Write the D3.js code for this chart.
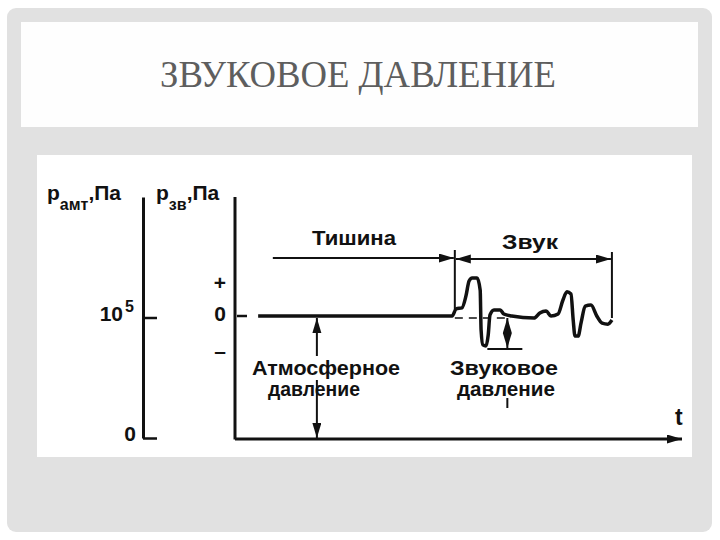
<!DOCTYPE html>
<html>
<head>
<meta charset="utf-8">
<script src="https://cdn.jsdelivr.net/npm/d3@7"></script>
<style>
  html, body { margin: 0; padding: 0; background: #fff; }
  svg { display: block; }
  .lbl { font-family: "Liberation Sans", Arial, sans-serif; font-weight: bold; fill: #111; }
</style>
</head>
<body>
<script>
// time axis (arbitrary units) and the two pressure axes
const tDomain = [0, 100];
const amtDomain = [0, 200000];      // p_amt, Pa
const amtTicks = [0, 100000];
const amtTickLabels = ['0', '10'];
const zvDomain = [-1, 3.5];         // p_zv, relative
const zvMarks = [1, 0, -1];
const zvMarkLabels = ['+', '0', '\u2013'];

// pressure trace: flat atmospheric level, then the sound burst
const traceT = [5.2, 48.8, 49.7, 51.0, 51.9, 52.6, 53.3, 54.4, 55.1, 55.3, 55.7, 56.4, 56.9, 57.3, 58.2, 59.6,
  60.4, 62.2, 67.2, 68.5, 69.9, 71.0, 72.6, 73.7, 74.6, 75.5, 76.0, 76.4, 77.1, 77.8, 78.7, 80.0, 81.3, 82.5,
  83.8, 84.7];
const traceP = [0, 0, 0.21, 0.24, 0.59, 1.03, 1.12, 1.12, 0.76, -0.41, -0.85, -0.88, -0.56, 0.03, 0.18, 0.18,
  0.06, 0, -0.06, 0.09, 0.15, 0, 0.06, 0.47, 0.71, 0.65, -0.12, -0.59, -0.59, -0.18, 0.29, 0.32, 0, -0.21,
  -0.24, -0.12];

// interval marks
const silenceSpan = [8.5, 49.4];
const soundSpan = [49.4, 84.7];
const atmArrowT = 18.4;
const zvArrowT = 61.2;

const W = 720, H = 540;
const svg = d3.select('body').append('svg').attr('width', W).attr('height', H);

// slide frame
svg.append('rect').attr('x', 7).attr('y', 8).attr('width', 705).attr('height', 524)
  .attr('rx', 9).attr('fill', '#e1e1e1');
svg.append('rect').attr('x', 21).attr('y', 22).attr('width', 677).attr('height', 105).attr('fill', '#fefefe');
svg.append('text').attr('x', 358).attr('y', 87).attr('text-anchor', 'middle')
  .attr('font-family', '"Liberation Serif", "DejaVu Serif", serif').attr('font-size', 37)
  .attr('fill', '#5e5e5e').attr('textLength', 396).attr('lengthAdjust', 'spacingAndGlyphs')
  .text('ЗВУКОВОЕ ДАВЛЕНИЕ');
svg.append('rect').attr('x', 37).attr('y', 155).attr('width', 655).attr('height', 302).attr('fill', '#fff');

// scales
const x = d3.scaleLinear().domain(tDomain).range([235, 680]);
const yA = d3.scaleLinear().domain(amtDomain).range([438, 197]);
const yS = d3.scaleLinear().domain([-1, 1]).range([350, 282]);

const defs = svg.append('defs');
defs.append('marker').attr('id', 'ah').attr('markerUnits', 'userSpaceOnUse')
  .attr('markerWidth', 16).attr('markerHeight', 10).attr('refX', 15).attr('refY', 4.5)
  .attr('orient', 'auto-start-reverse')
  .append('path').attr('d', 'M0,0 L15,4.5 L0,9 Z').attr('fill', '#111');

const g = svg.append('g');
const ink = '#111';

// left axis: p_amt
const axL = g.append('g').attr('transform', `translate(143,0)`)
  .call(d3.axisRight(yA).tickValues(amtTicks).tickSize(14).tickSizeOuter(0).tickFormat(''));
axL.select('.domain').attr('stroke', ink).attr('stroke-width', 3);
axL.selectAll('.tick line').attr('stroke', ink).attr('stroke-width', 2.5);

amtTicks.forEach((v, i) => {
  g.append('text').attr('class', 'lbl').attr('x', 136).attr('y', yA(v) + 3)
    .attr('text-anchor', 'end').attr('font-size', 21)
    .attr('dx', i === 1 ? -13 : 0).text(amtTickLabels[i]);
});
g.append('text').attr('class', 'lbl').attr('x', 125).attr('y', yA(100000) - 6)
  .attr('font-size', 16).text('5');

// right axis: p_zv and time axis
const x0 = x(0);
g.append('line').attr('x1', x0).attr('x2', x0).attr('y1', yS(zvDomain[1])).attr('y2', yA(0) + 1.5)
  .attr('stroke', ink).attr('stroke-width', 3);
g.append('line').attr('x1', x0).attr('x2', x(tDomain[1]) + 2).attr('y1', yA(0) + 1).attr('y2', yA(0) + 1)
  .attr('stroke', ink).attr('stroke-width', 3).attr('marker-end', 'url(#ah)');
g.append('line').attr('x1', x0 + 2).attr('x2', x0 + 12).attr('y1', yS(0)).attr('y2', yS(0))
  .attr('stroke', ink).attr('stroke-width', 2.5);

zvMarks.forEach((v, i) => {
  g.append('text').attr('class', 'lbl').attr('x', 220).attr('y', yS(v) + (v === 0 ? 5 : 8))
    .attr('text-anchor', 'middle').attr('font-size', 21).text(zvMarkLabels[i]);
});

// axis titles
function axisTitle(x1, main, sub, unit) {
  const t = g.append('text').attr('class', 'lbl').attr('x', x1).attr('y', 200).attr('font-size', 21);
  t.append('tspan').text(main);
  t.append('tspan').attr('dy', 10).attr('font-size', 16).text(sub);
  t.append('tspan').attr('dy', -10).text(',' + unit);
}
axisTitle(47, 'р', 'амт', 'Па');
axisTitle(156, 'р', 'зв', 'Па');

g.append('text').attr('class', 'lbl').attr('x', 675).attr('y', 425).attr('font-size', 23).text('t');

// pressure trace
const pts = traceT.map((t, i) => [t, traceP[i]]);
const line = d3.line().x(d => x(d[0])).y(d => yS(d[1])).curve(d3.curveMonotoneX);
g.append('path').datum(pts).attr('d', line).attr('fill', 'none')
  .attr('stroke', ink).attr('stroke-width', 3.5).attr('stroke-linejoin', 'round');

// dashed zero reference under the burst
g.append('line').attr('x1', x(soundSpan[0])).attr('x2', x(62)).attr('y1', yS(0) + 2).attr('y2', yS(0) + 2)
  .attr('stroke', ink).attr('stroke-width', 1.5).attr('stroke-dasharray', '8,6');

// interval arrows
const yArr = 258;
g.append('line').attr('x1', x(silenceSpan[0])).attr('x2', x(silenceSpan[1]) - 1).attr('y1', yArr).attr('y2', yArr)
  .attr('stroke', ink).attr('stroke-width', 2).attr('marker-end', 'url(#ah)');
g.append('line').attr('x1', x(soundSpan[0]) + 1).attr('x2', x(soundSpan[1]) - 1).attr('y1', yArr + 1).attr('y2', yArr + 1)
  .attr('stroke', ink).attr('stroke-width', 2)
  .attr('marker-start', 'url(#ah)').attr('marker-end', 'url(#ah)');
g.append('line').attr('x1', x(soundSpan[0])).attr('x2', x(soundSpan[0])).attr('y1', 250).attr('y2', yS(0) - 6)
  .attr('stroke', ink).attr('stroke-width', 2);
g.append('line').attr('x1', x(soundSpan[1])).attr('x2', x(soundSpan[1])).attr('y1', 252).attr('y2', yS(0) + 2)
  .attr('stroke', ink).attr('stroke-width', 2);

function label(cx, y, txt, len) {
  g.append('text').attr('class', 'lbl').attr('x', cx).attr('y', y).attr('text-anchor', 'middle')
    .attr('font-size', 21).attr('textLength', len).attr('lengthAdjust', 'spacingAndGlyphs').text(txt);
}
label(354, 245, 'Тишина', 84);
label(530, 249, 'Звук', 56);

// atmospheric pressure arrow
const xa = x(atmArrowT);
g.append('line').attr('x1', xa).attr('x2', xa).attr('y1', 356).attr('y2', yS(0) + 2)
  .attr('stroke', ink).attr('stroke-width', 2).attr('marker-end', 'url(#ah)');
g.append('line').attr('x1', xa).attr('x2', xa).attr('y1', 380).attr('y2', yA(0))
  .attr('stroke', ink).attr('stroke-width', 2).attr('marker-end', 'url(#ah)');
label(326, 375, 'Атмосферное', 148);
label(314, 396, 'давление', 92);

// sound pressure arrow
const xz = x(zvArrowT);
g.append('line').attr('x1', xz).attr('x2', xz).attr('y1', 333).attr('y2', yS(0) + 2)
  .attr('stroke', ink).attr('stroke-width', 2).attr('marker-end', 'url(#ah)');
g.append('line').attr('x1', xz).attr('x2', xz).attr('y1', 333).attr('y2', 348)
  .attr('stroke', ink).attr('stroke-width', 2).attr('marker-end', 'url(#ah)');
g.append('line').attr('x1', xz - 20).attr('x2', xz + 15).attr('y1', 349).attr('y2', 349)
  .attr('stroke', ink).attr('stroke-width', 2);
g.append('line').attr('x1', xz).attr('x2', xz).attr('y1', 398).attr('y2', 408)
  .attr('stroke', ink).attr('stroke-width', 2);
label(504, 375, 'Звуковое', 108);
label(506, 396, 'давление', 98);
</script>
</body>
</html>
